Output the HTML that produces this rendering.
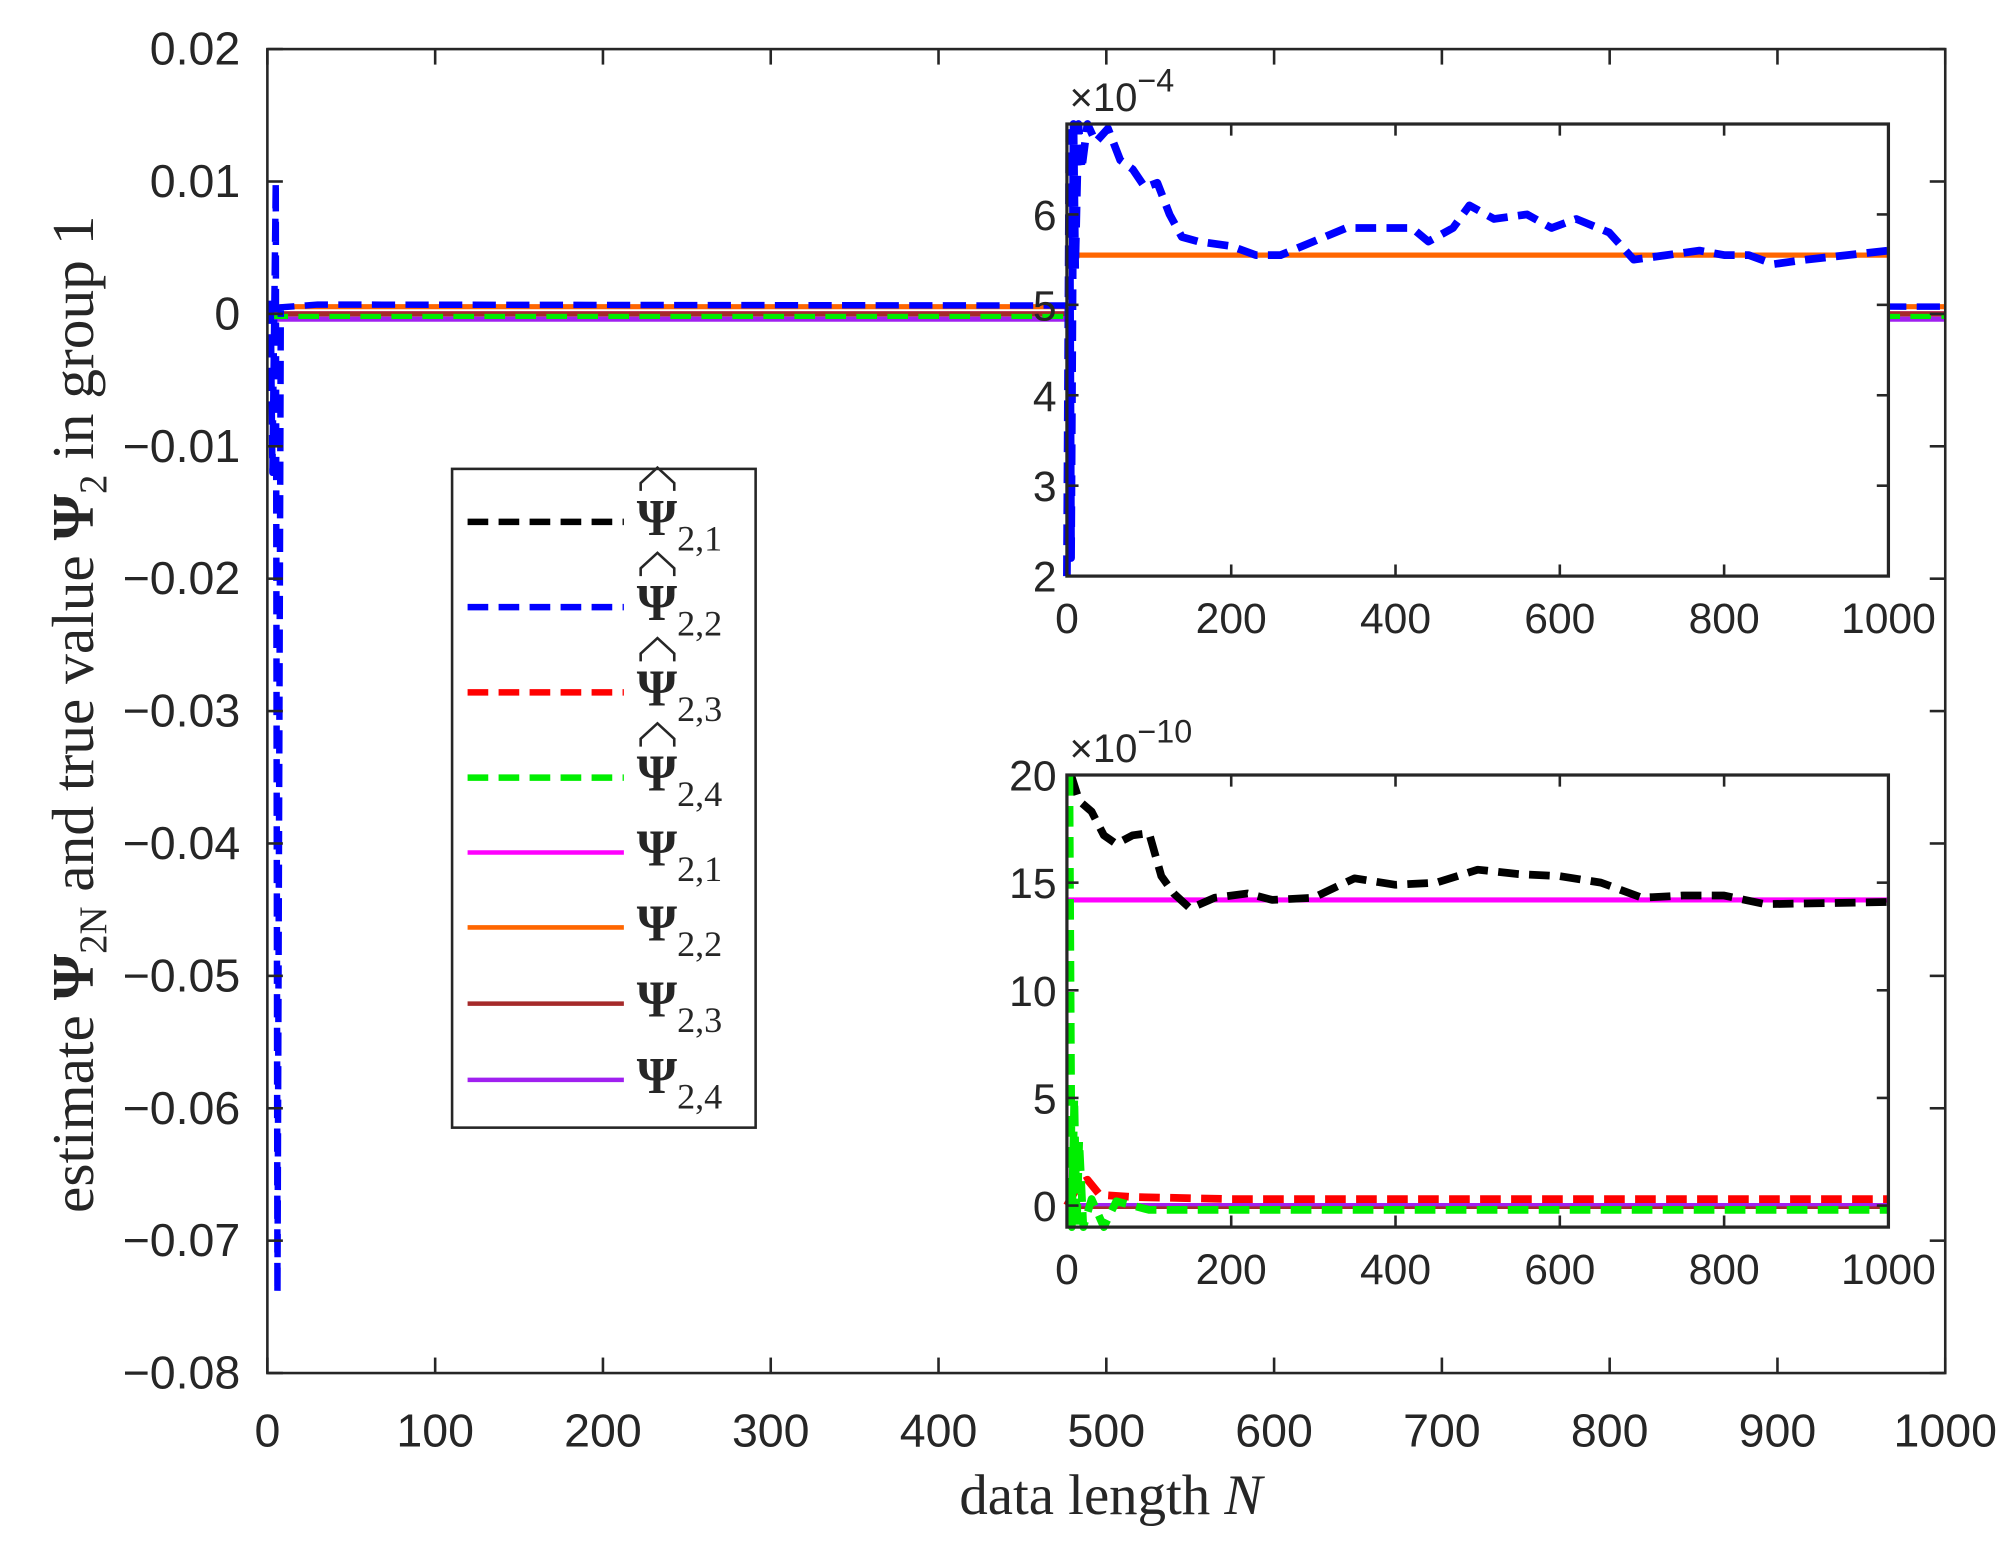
<!DOCTYPE html>
<html><head><meta charset="utf-8"><style>
html,body{margin:0;padding:0;background:#fff}
svg{display:block}
.t{font-family:"Liberation Sans",Arial,sans-serif;font-size:33px;fill:#262626}
.s{font-family:"Liberation Serif",serif;fill:#262626}
</style></head><body>
<svg id="g" xmlns="http://www.w3.org/2000/svg" width="2015" height="1553" viewBox="0 0 1560 1202.3">
<rect width="1560" height="1203" fill="#fff"/>
<g id="main"></g>
</svg>
<script>
const NS="http://www.w3.org/2000/svg",root=document.getElementById('main');
function el(t,a,txt){const e=document.createElementNS(NS,t);for(const k in a)e.setAttribute(k,a[k]);if(txt!=null)e.textContent=txt;root.appendChild(e);return e;}
function pl(pts,col,w,dash){el('polyline',{points:pts.map(p=>p[0].toFixed(1)+','+p[1].toFixed(1)).join(' '),fill:'none',stroke:col,'stroke-width':w,'stroke-dasharray':dash||'none','stroke-linejoin':'round'});}
const L=207,R=1506,T=38,B=1063;
const mx=n=>L+n*(R-L)/1000, my=v=>T+(0.02-v)*(B-T)/0.10;
pl([[mx(0),my(0.00055)],[mx(1000),my(0.00055)]],'#ff6600',4);
pl([[mx(0),my(0.0000014)],[mx(1000),my(0.0000014)]],'#ff00ff',4);
pl([[mx(0),my(0)],[mx(1000),my(0)]],'#a52a2a',4);
pl([[mx(0),my(-0.0004)],[mx(1000),my(-0.0004)]],'#a020f0',4);
pl([[mx(0),my(-0.0002)],[mx(1000),my(-0.0002)]],'#00ee00',4,'16,8');
pl([[mx(2),my(0.001)],[mx(3),my(-0.012)],[mx(5),my(0.01)],[mx(6),my(-0.074)],[mx(8),my(0.0005)],[mx(30),my(0.0007)],[mx(1000),my(0.00055)]],'#0000ff',5,'18,8');
el('rect',{x:L,y:T,width:R-L,height:B-T,fill:'none',stroke:'#262626','stroke-width':2});
for(let i=0;i<=10;i++){const x=mx(i*100);el('line',{x1:x,y1:B,x2:x,y2:B-12,stroke:'#262626','stroke-width':2});el('line',{x1:x,y1:T,x2:x,y2:T+12,stroke:'#262626','stroke-width':2});
el('text',{x:x,y:1120,'text-anchor':'middle',class:'t',style:'font-size:36px'},String(i*100));}
const yl=['0.02','0.01','0','\u22120.01','\u22120.02','\u22120.03','\u22120.04','\u22120.05','\u22120.06','\u22120.07','\u22120.08'];
for(let i=0;i<=10;i++){const y=T+i*(B-T)/10;el('line',{x1:L,y1:y,x2:L+12,y2:y,stroke:'#262626','stroke-width':2});el('line',{x1:R,y1:y,x2:R-12,y2:y,stroke:'#262626','stroke-width':2});
el('text',{x:186,y:y+12,'text-anchor':'end',class:'t',style:'font-size:36px'},yl[i]);}
const xl=el('text',{x:860,y:1172,'text-anchor':'middle',class:'s',style:'font-size:44px'},'data length ');
const ni=document.createElementNS(NS,'tspan');ni.setAttribute('font-style','italic');ni.textContent='N';xl.appendChild(ni);
const yt=el('text',{transform:'translate(72,553) rotate(-90)','text-anchor':'middle',class:'s',style:'font-size:46px'},null);
yt.innerHTML='estimate <tspan font-weight="bold">Ψ</tspan><tspan dy="10" font-size="30">2N</tspan><tspan dy="-10"> and true value </tspan><tspan font-weight="bold">Ψ</tspan><tspan dy="10" font-size="30">2</tspan><tspan dy="-10"> in group 1</tspan>';

function inset(x0,x1,y0,y1,ymin,ymax,yticks,exp){
  const ix=n=>x0+n*(x1-x0)/1000, iy=v=>y1-(v-ymin)*(y1-y0)/(ymax-ymin);
  el('rect',{x:x0,y:y0,width:x1-x0,height:y1-y0,fill:'#fff',stroke:'none'});
  return {ix,iy,finish(){
    el('rect',{x:x0,y:y0,width:x1-x0,height:y1-y0,fill:'none',stroke:'#262626','stroke-width':2.5});
    for(let i=0;i<=5;i++){const x=ix(i*200);el('line',{x1:x,y1:y1,x2:x,y2:y1-9,stroke:'#262626','stroke-width':2});el('line',{x1:x,y1:y0,x2:x,y2:y0+9,stroke:'#262626','stroke-width':2});
      el('text',{x:x,y:y1+44,'text-anchor':'middle',class:'t'},String(i*200));}
    yticks.forEach(v=>{const y=iy(v);el('line',{x1:x0,y1:y,x2:x0+9,y2:y,stroke:'#262626','stroke-width':2});el('line',{x1:x1,y1:y,x2:x1-9,y2:y,stroke:'#262626','stroke-width':2});
      el('text',{x:x0-8,y:y+12,'text-anchor':'end',class:'t'},String(v));});
    const e=el('text',{x:x0+2,y:y0-10,class:'t',style:'font-size:31px'},null);
    e.innerHTML='×10<tspan dy="-15" font-size="25">'+exp+'</tspan>';
  }};
}
let A=inset(826,1462,96,446,2,7,[2,3,4,5,6],'−4');
pl([[A.ix(0),A.iy(5.55)],[A.ix(1000),A.iy(5.55)]],'#ff6600',4);
const b1=[[0,2],[3,6.9],[5,2.2],[8,7],[10,5.4],[14,7],[18,6.5],[25,7],[35,6.8],[50,6.95],[65,6.6],[80,6.5],[95,6.3],[110,6.35],[125,6.0],[140,5.75],[160,5.7],[200,5.65],[230,5.55],[260,5.55],[300,5.7],[340,5.85],[380,5.85],[420,5.85],[440,5.7],[470,5.85],[490,6.1],[520,5.95],[560,6.0],[590,5.85],[620,5.95],[660,5.8],[690,5.5],[730,5.55],[770,5.6],[800,5.55],[830,5.55],[860,5.45],[900,5.5],[950,5.55],[1000,5.6]];
pl(b1.map(p=>[A.ix(p[0]),A.iy(p[1])]),'#0000ff',6,'16,8');
A.finish();
let C=inset(826,1462,600,950,-1,20,[0,5,10,15,20],'−10');
pl([[C.ix(0),C.iy(14.2)],[C.ix(1000),C.iy(14.2)]],'#ff00ff',4);
pl([[C.ix(0),C.iy(0)],[C.ix(1000),C.iy(0)]],'#a020f0',4);
pl([[C.ix(0),C.iy(-0.1)],[C.ix(1000),C.iy(-0.1)]],'#a52a2a',2);
const r2=[[0,0],[15,1],[25,1.2],[40,0.5],[80,0.4],[200,0.3],[1000,0.3]];
pl(r2.map(p=>[C.ix(p[0]),C.iy(p[1])]),'#ff0000',6,'16,8');
const k2=[[5,20],[15,18.8],[30,18.3],[45,17.2],[60,16.8],[80,17.2],[100,17.3],[115,15.3],[130,14.5],[150,13.8],[180,14.3],[220,14.5],[250,14.2],[300,14.3],[350,15.2],[400,14.9],[450,15.0],[500,15.6],[550,15.4],[600,15.3],[650,15.0],[700,14.3],[750,14.4],[800,14.4],[850,14.0],[1000,14.1]];
pl(k2.map(p=>[C.ix(p[0]),C.iy(p[1])]),'#000',6,'16,8');
const g2=[[3,20],[6,-1],[9,5],[12,-1],[15,3],[20,-1],[30,0.3],[45,-1],[60,0.2],[100,-0.2],[300,-0.2],[1000,-0.2]];
pl(g2.map(p=>[C.ix(p[0]),C.iy(p[1])]),'#00ee00',6,'16,8');
C.finish();
el('rect',{x:350,y:363,width:235,height:510,fill:'#fff',stroke:'#262626','stroke-width':2});
const leg=[['#000',1,'1',404],['#0000ff',1,'2',470],['#ff0000',1,'3',536],['#00ee00',1,'4',602],['#ff00ff',0,'1',660],['#ff6600',0,'2',718],['#a52a2a',0,'3',777],['#a020f0',0,'4',836]];
leg.forEach(l=>{pl([[362,l[3]],[483,l[3]]],l[0],l[1]?5:3.5,l[1]?'16,8':null);
  const t=el('text',{x:493,y:l[3]+10,class:'s',style:'font-size:40px'},null);
  t.innerHTML='<tspan font-weight="bold">Ψ</tspan><tspan dy="12" font-size="28">2,'+l[2]+'</tspan>';
  if(l[1])el('path',{d:'M 496 '+(l[3]-24)+' L 496 '+(l[3]-30)+' L 509 '+(l[3]-42)+' L 522 '+(l[3]-30)+' L 522 '+(l[3]-24),fill:'none',stroke:'#262626','stroke-width':2});
});
</script>
</body></html>
